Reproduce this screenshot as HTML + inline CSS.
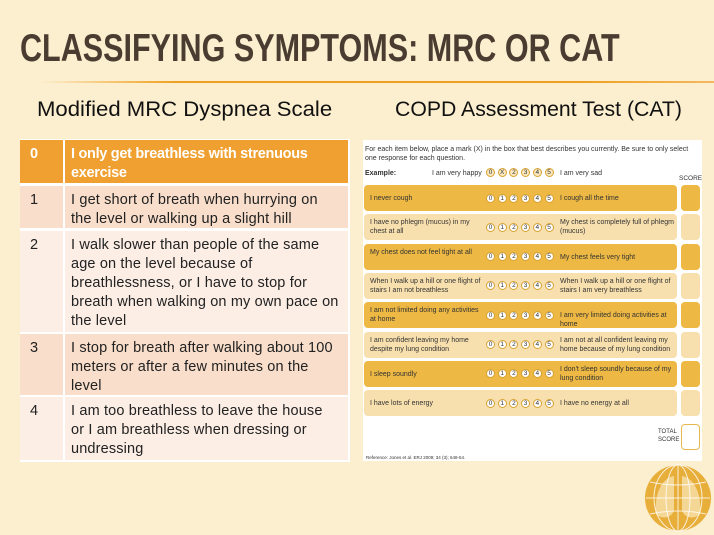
<!DOCTYPE html>
<html><head><meta charset="utf-8"><style>
*{margin:0;padding:0;box-sizing:border-box}
body{width:714px;height:535px;background:#FCEFCF;position:relative;overflow:hidden;font-family:"Liberation Sans",sans-serif}
.a{position:absolute}
.title{left:20px;top:27px;font-size:39px;font-weight:bold;color:#4a3c30;white-space:nowrap;transform-origin:0 0;display:inline-block}
.sub{font-size:21px;color:#111;white-space:nowrap;transform-origin:0 0;display:inline-block}
.row{position:absolute;left:20px;width:328px;font-size:14.5px;line-height:19px;color:#222;white-space:nowrap}
.row .n{position:absolute;left:0;top:0;bottom:0;width:43px;padding:5px 0 0 10px}
.row .t{position:absolute;left:45px;right:0;top:0;bottom:0;padding:5px 0 0 6px;letter-spacing:0.15px}
.cat{font-size:7px;color:#333;line-height:9px}
.cr{position:absolute;left:364px;width:313px;height:26px;border-radius:4px}
.sc{position:absolute;left:681px;width:19px;height:26px;border-radius:4px}
.c{position:absolute;width:9px;height:9px;border-radius:50%;border:1px solid #d9a230;background:#fff;font-size:6.5px;line-height:7px;text-align:center;color:#333}
</style></head><body>
<div class="a title" id="ti">CLASSIFYING SYMPTOMS: MRC OR CAT</div>
<div class="a" style="left:40px;top:81px;width:674px;height:2px;background:linear-gradient(90deg,rgba(240,160,40,0),#F0A020 20%,#F0A020 80%,#F4B860)"></div>
<div class="a sub" id="s1" style="left:37px;top:98px">Modified MRC Dyspnea Scale</div>
<div class="a sub" id="s2" style="left:395px;top:98px">COPD Assessment Test (CAT)</div>

<div class="a" style="left:20px;top:139px;width:330px;height:323px;background:#fff"></div>
<div class="row" style="top:140px;height:43px;color:#fff;font-weight:bold"><div class="n" style="background:#F0A030">0</div><div class="t" style="background:#F0A030;letter-spacing:-0.3px">I only get breathless with strenuous<br>exercise</div></div>
<div class="row" style="top:186px;height:42px"><div class="n" style="background:#F9DFCB">1</div><div class="t" style="background:#F9DFCB">I get short of breath when hurrying on<br>the level or walking up a slight hill</div></div>
<div class="row" style="top:231px;height:101px"><div class="n" style="background:#FCEEE5">2</div><div class="t" style="background:#FCEEE5">I walk slower than people of the same<br>age on the level because of<br>breathlessness, or I have to stop for<br>breath when walking on my own pace on<br>the level</div></div>
<div class="row" style="top:334px;height:61px"><div class="n" style="background:#F9DFCB">3</div><div class="t" style="background:#F9DFCB">I stop for breath after walking about 100<br>meters or after a few minutes on the<br>level</div></div>
<div class="row" style="top:397px;height:63px"><div class="n" style="background:#FCEEE5">4</div><div class="t" style="background:#FCEEE5">I am too breathless to leave the house<br>or I am breathless when dressing or<br>undressing</div></div>

<div class="a" style="left:363px;top:140px;width:339px;height:321px;background:#fff"></div>
<div class="a cat" style="left:365px;top:145px;width:335px">For each item below, place a mark (X) in the box that best describes you currently. Be sure to only select one response for each question.</div>
<div class="a cat" style="left:365px;top:169px;font-weight:bold">Example:</div>
<div class="a cat" style="left:432px;top:169px">I am very happy</div>
<div class="a cat" style="left:560px;top:169px">I am very sad</div>
<div class="a cat" style="left:679px;top:174px;font-size:6.5px">SCORE</div>
<div id="rows"></div>
<div class="a cat" style="left:658px;top:428px;font-size:6px;line-height:8px">TOTAL<br>SCORE</div>
<div class="a" style="left:681px;top:424px;width:19px;height:26px;border:1px solid #E8B850;border-radius:4px;background:#fff"></div>
<div class="a cat" style="left:366px;top:453px;font-size:4.5px">Reference: Jones et al. ERJ 2009; 34 (3); 648-54.</div>

<svg class="a" style="left:644px;top:464px" width="68" height="68" viewBox="0 0 68 68">
<circle cx="34" cy="34" r="33" fill="#E8AE3A"/>
<path d="M30 12 C18 14 10 30 12 50 C18 56 28 54 30 46 Z" fill="#F6DCA0" opacity=".9"/>
<path d="M38 12 C50 14 58 30 56 50 C50 56 40 54 38 46 Z" fill="#F6DCA0" opacity=".9"/>
<g stroke="#fff" stroke-width="1" fill="none" opacity=".8">
<ellipse cx="34" cy="34" rx="12" ry="33"/><ellipse cx="34" cy="34" rx="24" ry="33"/>
<line x1="34" y1="1" x2="34" y2="67"/><line x1="2" y1="34" x2="66" y2="34"/>
<path d="M6 18 Q34 24 62 18"/><path d="M6 50 Q34 44 62 50"/></g>
</svg>

<script>
var d=[["I never cough","I cough all the time"],["I have no phlegm (mucus) in my chest at all","My chest is completely full of phlegm (mucus)"],["My chest does not feel tight at all","My chest feels very tight"],["When I walk up a hill or one flight of stairs I am not breathless","When I walk up a hill or one flight of stairs I am very breathless"],["I am not limited doing any activities at home","I am very limited doing activities at home"],["I am confident leaving my home despite my lung condition","I am not at all confident leaving my home because of my lung condition"],["I sleep soundly","I don't sleep soundly because of my lung condition"],["I have lots of energy","I have no energy at all"]];
var h="";
for(var i=0;i<8;i++){var y=185+i*29.3;var bg=i%2?"#F8E0AE":"#EDB843";
h+='<div class="cr" style="top:'+y+'px;background:'+bg+'"></div><div class="sc" style="top:'+y+'px;background:'+bg+'"></div>';
var two=d[i][0].length>34;h+='<div class="a cat" style="left:370px;width:112px;top:'+(y+(two?4:9))+'px">'+d[i][0]+'</div>';
var two2=d[i][1].length>42;h+='<div class="a cat" style="left:560px;width:116px;top:'+(y+(two2?4:9))+'px">'+d[i][1]+'</div>';
for(var k=0;k<6;k++)h+='<div class="c" style="left:'+(486+k*11.7)+'px;top:'+(y+8.5)+'px">'+k+'</div>';}
for(var k=0;k<6;k++)h+='<div class="c" style="left:'+(486+k*11.7)+'px;top:168px;background:#FCE9C0">'+(k==1?'X':k)+'</div>';
document.getElementById("rows").innerHTML=h;
function fit(id,w){var e=document.getElementById(id);var s=w/e.offsetWidth;e.style.transform="scaleX("+s+")";}
fit("ti",600);fit("s1",295);fit("s2",287);
</script>
</body></html>
